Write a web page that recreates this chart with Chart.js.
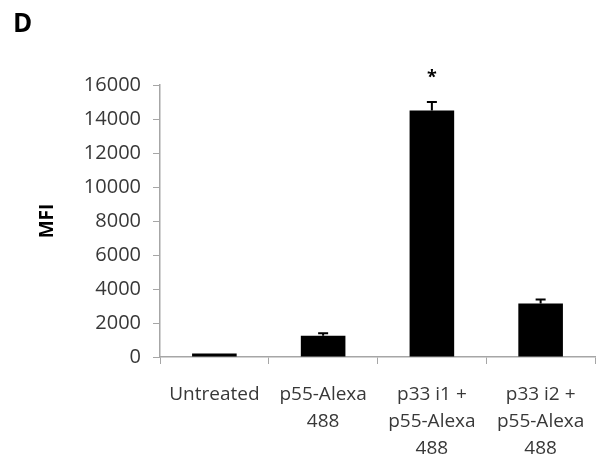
<!DOCTYPE html>
<html>
<head>
<meta charset="utf-8">
<script src="https://cdn.jsdelivr.net/npm/chart.js@4"></script>
<style>
  html, body { margin: 0; padding: 0; background: #fff; }
  #wrap { width: 608px; height: 462px; }
</style>
</head>
<body>
<div id="wrap"><canvas id="chart" width="608" height="462"></canvas></div>
<script>
const categories = [
    ['Untreated'],
    ['p55-Alexa', '488'],
    ['p33 i1 +', 'p55-Alexa', '488'],
    ['p33 i2 +', 'p55-Alexa', '488'],
];
const mfi = [200, 1250, 14500, 3150];
const mfiErr = [20, 150, 500, 230];
const significant = [false, false, true, false];
const yTicks = [0, 2000, 4000, 6000, 8000, 10000, 12000, 14000, 16000];

const AXIS = '#a6a6a6';
const TEXT = '#383838';

// ── Error bars, star and panel letter ─────────────────────────────────────
const extras = {
    id: 'extras',
    afterDatasetsDraw(chart) {
        const { ctx, scales } = chart;
        const meta = chart.getDatasetMeta(0);
        ctx.save();
        ctx.strokeStyle = '#000';
        ctx.lineWidth = 2;
        meta.data.forEach((bar, i) => {
            const x = bar.x;
            const yTop = scales.y.getPixelForValue(mfi[i] + mfiErr[i]);
            const yVal = scales.y.getPixelForValue(mfi[i]);
            if (mfiErr[i] > 0 && yVal - yTop > 1) {
                ctx.beginPath();
                ctx.moveTo(x, yVal);
                ctx.lineTo(x, yTop);
                ctx.moveTo(x - 5, yTop);
                ctx.lineTo(x + 5, yTop);
                ctx.stroke();
            }
            if (significant[i]) {
                ctx.fillStyle = '#000';
                ctx.font = 'bold 18px "Open Sans"';
                ctx.textAlign = 'center';
                ctx.textBaseline = 'middle';
                ctx.fillText('*', x, yTop - 24);
            }
        });
        ctx.fillStyle = '#000';
        ctx.font = 'bold 26px "Open Sans"';
        ctx.textAlign = 'left';
        ctx.textBaseline = 'alphabetic';
        ctx.fillText('D', 13, 32);
        ctx.restore();
    },
};

new Chart(document.getElementById('chart'), {
    type: 'bar',
    data: {
        labels: categories,
        datasets: [
            {
                data: mfi,
                backgroundColor: '#000',
                borderWidth: 0,
                barPercentage: 0.41,
                categoryPercentage: 1.0,
            },
        ],
    },
    options: {
        responsive: false,
        animation: false,
        devicePixelRatio: 1,
        layout: { padding: { top: 85, right: 13, left: 0, bottom: 0 } },
        plugins: {
            legend: { display: false },
            tooltip: { enabled: false },
        },
        scales: {
            x: {
                grid: {
                    display: true,
                    drawOnChartArea: false,
                    drawTicks: true,
                    tickLength: 7,
                    color: AXIS,
                    offset: true,
                },
                border: { color: AXIS, width: 1.5 },
                ticks: {
                    color: TEXT,
                    font: { family: 'Open Sans', size: 19, lineHeight: 1.42 },
                    padding: 17,
                    maxRotation: 0,
                    autoSkip: false,
                },
                afterFit(scale) { scale.height = 105; },
            },
            y: {
                min: 0,
                max: 16000,
                afterBuildTicks(scale) {
                    scale.ticks = yTicks.map((v) => ({ value: v }));
                },
                grid: {
                    display: true,
                    drawOnChartArea: false,
                    drawTicks: true,
                    tickLength: 7,
                    color: AXIS,
                },
                border: { color: AXIS, width: 1.5 },
                ticks: {
                    color: TEXT,
                    font: { family: 'Open Sans', size: 20 },
                    padding: 12,
                    callback: (v) => String(v),
                },
                title: {
                    display: true,
                    text: 'MFI',
                    color: '#000',
                    font: { family: 'Open Sans', size: 19, weight: 'bold' },
                    padding: { top: 36, bottom: 0 },
                },
                afterFit(scale) { scale.width = 160; },
            },
        },
    },
    plugins: [extras],
});
</script>
</body>
</html>
